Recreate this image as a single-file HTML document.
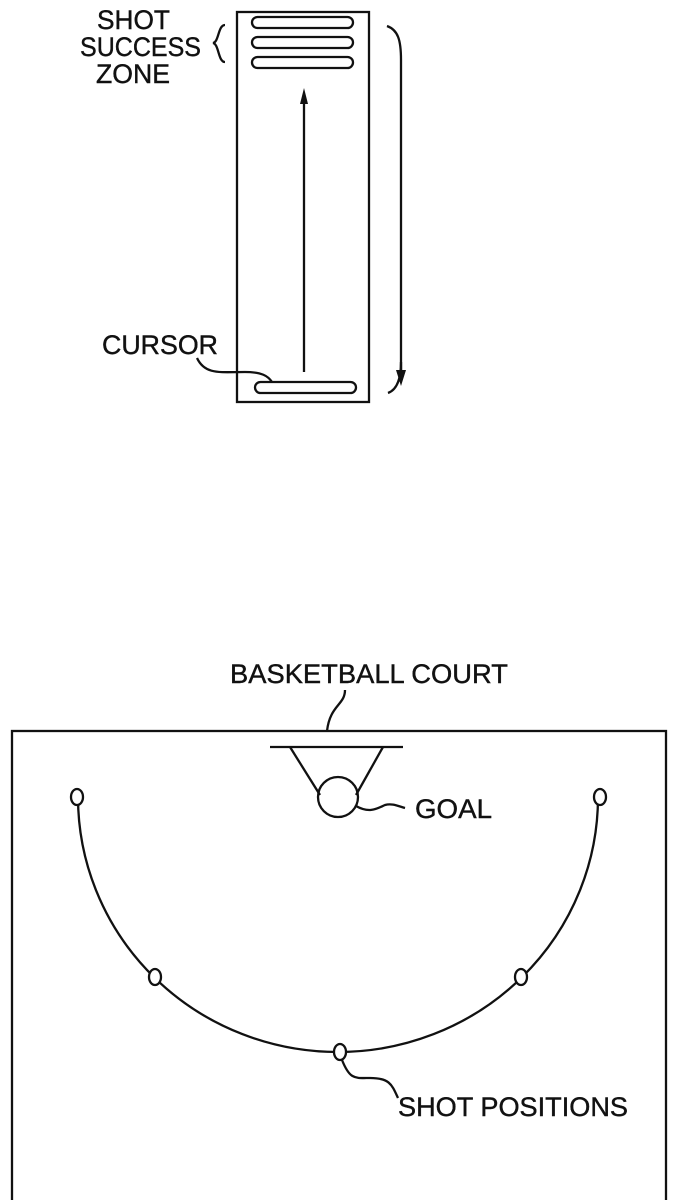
<!DOCTYPE html>
<html><head><meta charset="utf-8"><style>
html,body{margin:0;padding:0;background:#fff;}
svg{display:block;}
text{font-family:"Liberation Sans",sans-serif;font-size:27px;fill:#111;stroke:#111;stroke-width:0.4;}
</style></head><body>
<svg width="677" height="1200" viewBox="0 0 677 1200" xmlns="http://www.w3.org/2000/svg">
<g fill="none" stroke="#111" stroke-width="2.3">
<rect x="237" y="12" width="132" height="390"/>
<rect x="252" y="17" width="101" height="11" rx="5.5"/>
<rect x="252" y="37" width="101" height="11" rx="5.5"/>
<rect x="252" y="57" width="101" height="11" rx="5.5"/>
<rect x="255" y="382" width="101" height="11" rx="5.5"/>
<line x1="304" y1="372" x2="304" y2="100"/>
<path d="M225,25 C218,25 219,42 213,43 C219,44 218,62 225,62"/>
<path d="M387,26 C398,30 401,40 401,60 L401,375"/>
<path d="M401,370 L401,362 C401,380 396,390 388,393"/>
<path d="M197,358 C205,375 220,372 245,372 C262,372 268,376 272,382"/>
<rect x="12" y="731" width="654" height="480"/>
<line x1="270" y1="747" x2="403" y2="747"/>
<line x1="290" y1="747" x2="320" y2="795"/>
<line x1="383" y1="747" x2="356" y2="795"/>
<circle cx="338" cy="797" r="20"/>
<path d="M356,806 C370,814 378,808 385,805 C392,803 398,806 405,808"/>
<path d="M345,690 C345,705 330,705 327,731"/>
<path d="M78,797 A260,255 0 0 0 598,797"/>
<ellipse cx="77" cy="797" rx="6" ry="8" fill="#fff"/>
<ellipse cx="600" cy="797" rx="6" ry="8" fill="#fff"/>
<ellipse cx="155" cy="977" rx="6" ry="8" fill="#fff"/>
<ellipse cx="521" cy="977" rx="6" ry="8" fill="#fff"/>
<ellipse cx="340" cy="1052" rx="6" ry="8" fill="#fff"/>
<path d="M342,1060 C350,1080 355,1078 370,1078 C390,1078 392,1085 398,1098"/>
</g>
<polygon points="304,88 300,104 308,104" fill="#111"/>
<polygon points="401,386 396,370 406,370" fill="#111"/>
<text x="97" y="29" textLength="73" lengthAdjust="spacingAndGlyphs">SHOT</text>
<text x="80" y="56" textLength="121" lengthAdjust="spacingAndGlyphs">SUCCESS</text>
<text x="96" y="83" textLength="74" lengthAdjust="spacingAndGlyphs">ZONE</text>
<text x="102" y="354" textLength="116" lengthAdjust="spacingAndGlyphs">CURSOR</text>
<text x="230" y="683" textLength="278" lengthAdjust="spacingAndGlyphs">BASKETBALL COURT</text>
<text x="415" y="818" textLength="77" lengthAdjust="spacingAndGlyphs">GOAL</text>
<text x="398" y="1116" textLength="230" lengthAdjust="spacingAndGlyphs">SHOT POSITIONS</text>
</svg>
</body></html>
